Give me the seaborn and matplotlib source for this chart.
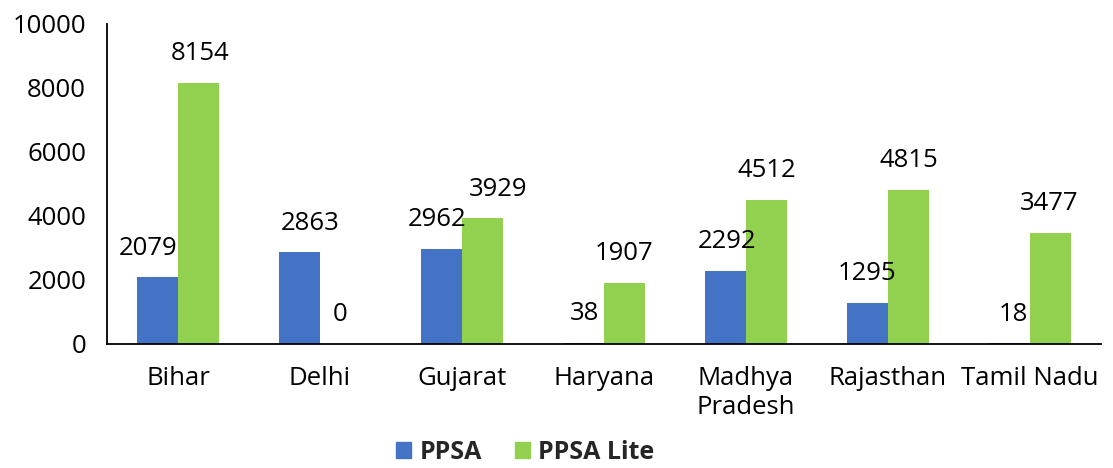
import pandas as pd
import seaborn as sns
import matplotlib.pyplot as plt

states = ['Bihar', 'Delhi', 'Gujarat', 'Haryana', 'Madhya\nPradesh', 'Rajasthan', 'Tamil Nadu']
ppsa = [2079, 2863, 2962, 38, 2292, 1295, 18]
ppsa_lite = [8154, 0, 3929, 1907, 4512, 4815, 3477]
series = ['PPSA', 'PPSA Lite']
colors = ['#4472C4', '#92D050']

# small horizontal nudges (in points) mimicking the original label placement
nudge = {
    'PPSA': [-7, 8, -3, 1, 1, 0, 3],
    'PPSA Lite': [1, 0, 11, 0, 0, 0, -1],
}

df = pd.DataFrame({
    'state': states * 2,
    'value': ppsa + ppsa_lite,
    'series': ['PPSA'] * len(states) + ['PPSA Lite'] * len(states),
})

sns.set_theme(style='white')
plt.rcParams['font.family'] = ['Open Sans', 'DejaVu Sans']

fig = plt.figure(figsize=(11.13, 4.68), dpi=100)
ax = fig.add_axes([0.0961, 0.265, 0.893, 0.684])

sns.barplot(data=df, x='state', y='value', hue='series', hue_order=series,
            palette=colors, saturation=1, width=0.58, gap=0, linewidth=0, ax=ax)

for cont, name in zip(ax.containers, series):
    for bar, dx in zip(cont, nudge[name]):
        h = bar.get_height()
        ax.annotate(f'{int(h)}', (bar.get_x() + bar.get_width() / 2, h),
                    xytext=(dx, 12), textcoords='offset points',
                    ha='center', va='bottom', fontsize=18.5, color='black')

ax.set_ylim(0, 10000)
ax.set_yticks(range(0, 10001, 2000))
ax.set_xlim(-0.5, len(states) - 0.5)
ax.set_xlabel('')
ax.set_ylabel('')
ax.tick_params(axis='x', length=0, pad=16, labelsize=18.5, colors='black')
ax.tick_params(axis='y', length=0, pad=15, labelsize=18.5, colors='black')

sns.despine(ax=ax)
for s in ['left', 'bottom']:
    ax.spines[s].set_color('black')
    ax.spines[s].set_linewidth(1.3)

ax.legend_.remove()
handles = [plt.Rectangle((0, 0), 1, 1, color=c) for c in colors]
fig.legend(handles, series, loc='center', bbox_to_anchor=(0.472, 0.034),
           ncol=2, frameon=False, handlelength=0.6, handleheight=0.6,
           handletextpad=0.35, columnspacing=1.3, borderpad=0.2,
           prop={'size': 18, 'weight': 'bold'})

fig.savefig('out.png', dpi=100)
